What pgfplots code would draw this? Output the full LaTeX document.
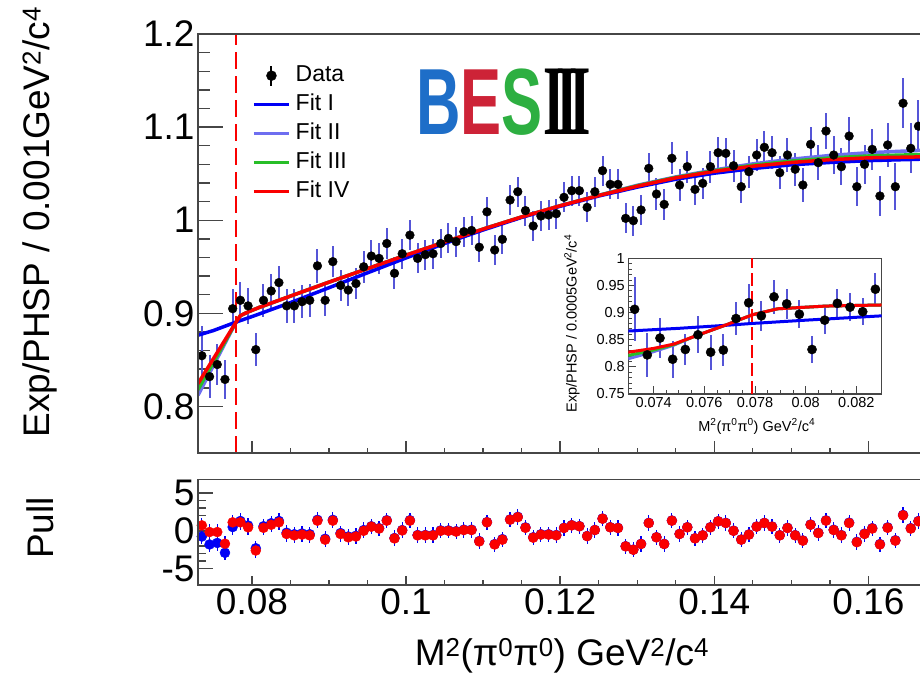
\documentclass[border=0pt]{standalone}
\usepackage{pgfplots}
\usepackage{pgfplotstable}
\pgfplotsset{compat=1.18}
\usepackage{fontspec}
\setmainfont{Liberation Sans}
\newfontfamily\romanfont{Liberation Serif}

\definecolor{fitI}{RGB}{0,0,245}
\definecolor{fitII}{RGB}{110,110,240}
\definecolor{fitIII}{RGB}{40,190,40}
\definecolor{fitIV}{RGB}{250,0,0}
\definecolor{errblue}{RGB}{85,85,215}
\definecolor{framegray}{RGB}{70,70,70}
\definecolor{besB}{RGB}{30,110,200}
\definecolor{besE}{RGB}{205,35,55}
\definecolor{besS}{RGB}{45,175,65}

\newcommand\bigfont{\fontsize{37}{44}\selectfont}
\newcommand\legfont{\fontsize{23}{27}\selectfont}
\newcommand\insetfont{\fontsize{14.5}{17}\selectfont}

% efficiency-corrected ratio, 0.001 GeV^2/c^4 bins
\pgfplotstableread{
x y e
0.0735 0.8545 0.032
0.0745 0.832 0.023
0.0755 0.845 0.022
0.0765 0.829 0.021
0.0775 0.905 0.021
0.0785 0.914 0.020
0.0795 0.908 0.019
0.0805 0.861 0.018
0.0815 0.914 0.018
0.0825 0.924 0.018
0.0835 0.933 0.018
0.0845 0.908 0.018
0.0855 0.908 0.018
0.0865 0.9125 0.018
0.0875 0.914 0.018
0.0885 0.951 0.018
0.0895 0.914 0.017
0.0905 0.9555 0.017
0.0915 0.930 0.017
0.0925 0.925 0.017
0.0935 0.932 0.017
0.0945 0.950 0.017
0.0955 0.9615 0.017
0.0965 0.959 0.017
0.0975 0.975 0.017
0.0985 0.943 0.017
0.0995 0.964 0.016
0.1005 0.984 0.016
0.1015 0.959 0.016
0.1025 0.963 0.016
0.1035 0.964 0.016
0.1045 0.975 0.016
0.1055 0.9805 0.016
0.1065 0.977 0.016
0.1075 0.9877 0.016
0.1085 0.989 0.016
0.1095 0.971 0.016
0.1105 1.009 0.016
0.1115 0.968 0.016
0.1125 0.9795 0.016
0.1135 1.0217 0.016
0.1145 1.0306 0.016
0.1155 1.0103 0.016
0.1165 0.9938 0.016
0.1175 1.0045 0.016
0.1185 1.0056 0.016
0.1195 1.0070 0.016
0.1205 1.0246 0.016
0.1215 1.0317 0.016
0.1225 1.0317 0.016
0.1235 1.0138 0.016
0.1245 1.0306 0.016
0.1255 1.0532 0.016
0.1265 1.0385 0.016
0.1275 1.0385 0.016
0.1285 1.002 0.016
0.1295 0.9995 0.016
0.1305 1.011 0.016
0.1315 1.0557 0.017
0.1325 1.0281 0.017
0.1335 1.017 0.017
0.1345 1.0665 0.017
0.1355 1.0378 0.017
0.1365 1.0575 0.017
0.1375 1.0331 0.017
0.1385 1.0396 0.017
0.1395 1.0575 0.017
0.1405 1.0725 0.017
0.1415 1.0718 0.017
0.1425 1.0585 0.017
0.1435 1.036 0.017
0.1445 1.0521 0.017
0.1455 1.070 0.017
0.1465 1.0783 0.017
0.1475 1.0725 0.018
0.1485 1.051 0.018
0.1495 1.070 0.018
0.1505 1.0547 0.018
0.1515 1.0378 0.018
0.1525 1.0815 0.019
0.1535 1.0618 0.019
0.1545 1.0958 0.019
0.1555 1.070 0.020
0.1565 1.0575 0.020
0.1575 1.0904 0.020
0.1585 1.036 0.021
0.1595 1.060 0.021
0.1605 1.0761 0.022
0.1615 1.026 0.022
0.1625 1.0808 0.024
0.1635 1.036 0.025
0.1645 1.1256 0.027
0.1655 1.0772 0.027
0.1665 1.101 0.028
}\mainratio

% pulls of the data with respect to Fit IV and Fit I
\pgfplotstableread{
x pIV pI
0.0735 0.72 -0.75
0.0745 -0.16 -1.8
0.0755 -0.16 -1.6
0.0765 -1.7 -2.9
0.0775 1.12 0.5
0.0785 1.12 1.3
0.0795 0.46 0.7
0.0805 -2.6 -2.3
0.0815 0.4 0.6
0.0825 0.8 1.0
0.0835 1.12 1.3
0.0845 -0.42 -0.25
0.0855 -0.6 -0.45
0.0865 -0.5 -0.35
0.0875 -0.6 -0.45
0.0885 1.34 1.45
0.0895 -1.17 -1.05
0.0905 1.34 1.45
0.0915 -0.42 -0.3
0.0925 -0.86 -0.75
0.0935 -0.75 -0.65
0.0945 0.0 0.1
0.0955 0.55 0.6
0.0965 0.3 0.35
0.0975 1.34 1.4
0.0985 -1.0 -0.95
0.0995 0.05 0.1
0.1005 1.34 1.4
0.1015 -0.6 -0.55
0.1025 -0.6 -0.55
0.1035 -0.6 -0.55
0.1045 0.0 0.05
0.1055 0.0 0.05
0.1065 -0.1 -0.05
0.1075 0.1 0.15
0.1085 0.1 0.15
0.1095 -1.4 -1.35
0.1105 1.12 1.15
0.1115 -1.8 -1.75
0.1125 -1.17 -1.1
0.1135 1.47 1.5
0.1145 1.8 1.85
0.1155 0.4 0.45
0.1165 -0.9 -0.85
0.1175 -0.5 -0.45
0.1185 -0.5 -0.45
0.1195 -0.6 -0.55
0.1205 0.37 0.4
0.1215 0.72 0.75
0.1225 0.6 0.62
0.1235 -0.7 -0.68
0.1245 0.1 0.12
0.1255 1.6 1.62
0.1265 0.46 0.48
0.1275 0.37 0.39
0.1285 -2.05 -2.03
0.1295 -2.5 -2.48
0.1305 -1.74 -1.72
0.1315 1.03 1.05
0.1325 -0.86 -0.84
0.1335 -1.74 -1.72
0.1345 1.34 1.36
0.1355 -0.42 -0.4
0.1365 0.46 0.48
0.1375 -1.0 -0.98
0.1385 -0.6 -0.58
0.1395 0.46 0.48
0.1405 1.25 1.27
0.1415 1.03 1.05
0.1425 0.0 0.02
0.1435 -1.17 -1.15
0.1445 -0.5 -0.48
0.1455 0.55 0.57
0.1465 1.03 1.05
0.1475 0.55 0.57
0.1485 -0.6 -0.58
0.1495 0.37 0.4
0.1505 -0.6 -0.57
0.1515 -1.3 -1.27
0.1525 0.8 0.83
0.1535 -0.3 -0.26
0.1545 1.34 1.38
0.1555 0.1 0.14
0.1565 -0.6 -0.56
0.1575 1.03 1.08
0.1585 -1.5 -1.45
0.1595 -0.42 -0.37
0.1605 0.3 0.35
0.1615 -1.8 -1.75
0.1625 0.4 0.45
0.1635 -1.3 -1.25
0.1645 2.05 2.1
0.1655 0.3 0.35
0.1665 1.25 1.3
}\pulls

% finer binning near threshold, 0.0005 GeV^2/c^4 bins
\pgfplotstableread{
x y e
0.07325 0.906 0.059
0.07375 0.822 0.041
0.07425 0.853 0.037
0.07475 0.814 0.034
0.07525 0.832 0.028
0.07575 0.859 0.034
0.07625 0.827 0.032
0.07675 0.831 0.030
0.07725 0.889 0.030
0.07775 0.918 0.035
0.07825 0.894 0.028
0.07875 0.929 0.031
0.07925 0.916 0.027
0.07975 0.897 0.026
0.08025 0.832 0.025
0.08075 0.886 0.025
0.08125 0.917 0.027
0.08175 0.910 0.026
0.08225 0.9016 0.025
0.08275 0.943 0.029
}\zoomratio

\pgfplotsset{
  panel/.style={
    scale only axis, width=722pt, xmin=0.073, xmax=0.1667,
    axis line style={draw=none},
    tick align=inside, tick pos=left,
    tick style={framegray, line width=1.4pt},
    scaled ticks=false,
    /pgf/number format/assume math mode=true,
    ticklabel style={font=\bigfont},
  },
  xticklayer/.style={
    panel, ytick=\empty,
    xtick={0.08,0.1,0.12,0.14,0.16}, minor x tick num=3,
  },
  fitline/.style={line width=3.5pt, forget plot},
  ratiodata/.style={only marks, mark=*, mark size=4.4pt, black, forget plot,
    error bars/.cd, y dir=both, y explicit,
    error bar style={errblue, line width=2pt}, error mark=none},
}

\begin{document}
\begin{tikzpicture}

% ---------------- upper panel: ratio with fits ----------------
\begin{axis}[panel, name=main, at={(198pt,221pt)}, anchor=south west, height=419pt,
  ymin=0.75, ymax=1.2, xtick=\empty,
  ytick={0.8,0.9,1,1.1,1.2}, yticklabels={0.8,0.9,1,1.1,1.2}, minor y tick num=4,
  major tick length=25pt, minor tick length=12pt,
  ylabel={Exp/PHSP / 0.001GeV\textsuperscript{2}/c\textsuperscript{4}},
  every axis y label/.style={at={(axis description cs:-0.2188,0.551)}, rotate=90, anchor=center, font=\bigfont},
  legend style={draw=none, fill=none, at={(axis description cs:0.0748,0.932)}, anchor=north west,
    font=\legfont, row sep=3pt, inner sep=0pt,
    nodes={inner sep=2pt, text height=17pt, text depth=5pt},
    /tikz/every odd column/.append style={column sep=3pt}},
  legend cell align=left,
  legend image code/.code={\draw[#1] (0pt,0pt) -- (35pt,0pt);},
]
\addlegendimage{legend image code/.code={\draw[black, line width=2pt] (17.5pt,-10pt) -- (17.5pt,10pt); \fill[black] (17.5pt,0pt) circle (5pt);}}
\addlegendentry{Data}
\addlegendimage{fitI, line width=3.5pt}\addlegendentry{Fit I}
\addlegendimage{fitII, line width=3.5pt}\addlegendentry{Fit II}
\addlegendimage{fitIII, line width=3.5pt}\addlegendentry{Fit III}
\addlegendimage{fitIV, line width=3.5pt}\addlegendentry{Fit IV}

\addplot[ratiodata] table[x=x, y=y, y error=e] {\mainratio};

\addplot[fitline, fitII] coordinates {
 (0.073,0.812) (0.0779,0.890) (0.0785,0.8975) (0.0795,0.9015) (0.081,0.9065)
 (0.085,0.9185) (0.090,0.9335) (0.095,0.948) (0.100,0.9625) (0.105,0.9765)
 (0.110,0.9905) (0.115,1.0035) (0.120,1.0155) (0.125,1.0268) (0.130,1.0375)
 (0.135,1.0465) (0.140,1.0540) (0.145,1.0605) (0.150,1.0655) (0.155,1.0695)
 (0.160,1.0725) (0.1667,1.0750)};
\addplot[fitline, fitIII] coordinates {
 (0.073,0.818) (0.0779,0.890) (0.0785,0.8975) (0.0795,0.9015) (0.081,0.9065)
 (0.085,0.9185) (0.090,0.9335) (0.095,0.948) (0.100,0.9625) (0.105,0.9765)
 (0.110,0.9905) (0.115,1.0035) (0.120,1.0155) (0.125,1.0266) (0.130,1.0370)
 (0.135,1.0460) (0.140,1.0532) (0.145,1.0590) (0.150,1.0635) (0.155,1.0668)
 (0.160,1.0690) (0.1667,1.0705)};
\addplot[fitline, fitI] coordinates {
 (0.073,0.8765) (0.075,0.8815) (0.0779,0.8905) (0.080,0.8965) (0.085,0.9115)
 (0.090,0.9275) (0.095,0.9435) (0.100,0.9595) (0.105,0.9750) (0.110,0.9895)
 (0.115,1.0030) (0.120,1.0150) (0.125,1.0260) (0.130,1.0355) (0.135,1.0440)
 (0.140,1.0505) (0.145,1.0555) (0.150,1.0595) (0.155,1.0620) (0.160,1.0640)
 (0.1667,1.0655)};
\addplot[fitline, fitIV] coordinates {
 (0.073,0.8245) (0.0779,0.890) (0.0785,0.8975) (0.0795,0.9015) (0.081,0.9065)
 (0.085,0.9185) (0.090,0.9335) (0.095,0.948) (0.100,0.9625) (0.105,0.9765)
 (0.110,0.9905) (0.115,1.0035) (0.120,1.0155) (0.125,1.0265) (0.130,1.0365)
 (0.135,1.0455) (0.140,1.0525) (0.145,1.0580) (0.150,1.0620) (0.155,1.0650)
 (0.160,1.0670) (0.1667,1.0680)};

% pi+ pi- threshold
\addplot[fitIV, line width=2pt, dash pattern=on 17pt off 7pt, forget plot]
  coordinates {(0.0779,0.75) (0.0779,1.2)};
\end{axis}

\begin{axis}[xticklayer, at={(198pt,221pt)}, anchor=south west, height=419pt,
  ymin=0.75, ymax=1.2, xticklabels={}, major tick length=12pt, minor tick length=5pt]
\end{axis}

\draw[framegray, line width=1.6pt] (main.north east) -- (main.north west) -- (main.south west) -- (main.south east);

% ---------------- lower panel: pulls ----------------
\begin{axis}[panel, name=pull, at={(198pt,89pt)}, anchor=south west, height=105.3pt,
  ymin=-7.15, ymax=6.75, xtick=\empty,
  ytick={-5,0,5}, yticklabels={-5,0,5}, minor y tick num=4,
  major tick length=15pt, minor tick length=8pt,
  ylabel={Pull},
  every axis y label/.style={at={(axis description cs:-0.2188,0.54)}, rotate=90, anchor=center, font=\bigfont},
]
\addplot[only marks, mark=*, mark size=5pt, fitI,
  error bars/.cd, y dir=both, y fixed=1, error bar style={fitI, line width=1.2pt}, error mark=none]
  table[x=x, y=pI] {\pulls};
\addplot[only marks, mark=*, mark size=5pt, fitIV,
  error bars/.cd, y dir=both, y fixed=1, error bar style={fitI, line width=1.2pt}, error mark=none]
  table[x=x, y=pIV] {\pulls};
\end{axis}

\begin{axis}[xticklayer, at={(198pt,89pt)}, anchor=south west, height=105.3pt,
  ymin=-7.15, ymax=6.75, xticklabels={0.08,0.1,0.12,0.14,0.16},
  major tick length=9pt, minor tick length=5pt,
  xlabel={M\textsuperscript{2}(π\textsuperscript{0}π\textsuperscript{0}) GeV\textsuperscript{2}/c\textsuperscript{4}},
  every axis x label/.style={at={(axis description cs:0.504,-0.764)}, anchor=base, font=\bigfont},
]
\end{axis}

\draw[framegray, line width=1.6pt] (pull.north east) -- (pull.north west) -- (pull.south west) -- (pull.south east);

% ---------------- inset: threshold region ----------------
\begin{axis}[name=inset, at={(628.3pt,280pt)}, anchor=south west, scale only axis,
  width=253.4pt, height=135.7pt,
  xmin=0.073, xmax=0.083, ymin=0.75, ymax=1,
  axis line style={framegray, line width=1.2pt},
  tick align=inside, tick pos=left, tick style={framegray, line width=1pt},
  major tick length=8pt, minor tick length=4pt,
  scaled ticks=false,
  xtick={0.074,0.076,0.078,0.08,0.082}, xticklabels={0.074,0.076,0.078,0.08,0.082}, minor x tick num=3,
  ytick={0.75,0.8,0.85,0.9,0.95,1}, yticklabels={0.75,0.8,0.85,0.9,0.95,1}, minor y tick num=4,
  /pgf/number format/assume math mode=true,
  ticklabel style={font=\insetfont},
  xlabel={M\textsuperscript{2}(π\textsuperscript{0}π\textsuperscript{0}) GeV\textsuperscript{2}/c\textsuperscript{4}},
  ylabel={Exp/PHSP / 0.0005GeV\textsuperscript{2}/c\textsuperscript{4}},
  every axis x label/.style={at={(axis description cs:0.507,-0.273)}, anchor=base, font=\insetfont},
  every axis y label/.style={at={(axis description cs:-0.222,0.52)}, rotate=90, anchor=center, font=\insetfont},
]
\addplot[only marks, mark=*, mark size=4.6pt, black,
  error bars/.cd, y dir=both, y explicit, error bar style={errblue, line width=2pt}, error mark=none]
  table[x=x, y=y, y error=e] {\zoomratio};
\addplot[line width=3pt, fitII] coordinates {
 (0.073,0.815) (0.0740,0.828) (0.0748,0.840) (0.0756,0.856) (0.0769,0.878)
 (0.0779,0.896) (0.0789,0.907) (0.0808,0.912) (0.083,0.914)};
\addplot[line width=3pt, fitIII] coordinates {
 (0.073,0.821) (0.0740,0.831) (0.0748,0.841) (0.0756,0.856) (0.0769,0.878)
 (0.0779,0.896) (0.0789,0.907) (0.0808,0.912) (0.083,0.914)};
\addplot[line width=3pt, fitI] coordinates {
 (0.073,0.866) (0.075,0.871) (0.077,0.877) (0.0779,0.880) (0.080,0.886) (0.083,0.894)};
\addplot[line width=3pt, fitIV] coordinates {
 (0.073,0.827) (0.0740,0.834) (0.0748,0.842) (0.0756,0.856) (0.0769,0.878)
 (0.0779,0.896) (0.0789,0.907) (0.0808,0.912) (0.083,0.914)};
\addplot[fitIV, line width=2pt, dash pattern=on 13pt off 5pt]
  coordinates {(0.0779,0.75) (0.0779,1)};
\end{axis}

% ---------------- experiment logo ----------------
\node[anchor=base west, inner sep=0pt, xscale=0.655, font=\bfseries\fontsize{94}{94}\selectfont]
  at (416pt,539pt) {\textcolor{besB}{B}\textcolor{besE}{E}\textcolor{besS}{S}};
\node[anchor=base west, inner sep=0pt, xscale=0.55, font=\romanfont\bfseries\fontsize{100}{100}\selectfont]
  at (543pt,539pt) {I\kern-15pt I\kern-15pt I};

% page: the plotted window is cut at the right edge of the upper panel
\pgfresetboundingbox
\useasboundingbox (0pt,0pt) rectangle (920pt,674pt);
\end{tikzpicture}
\end{document}
